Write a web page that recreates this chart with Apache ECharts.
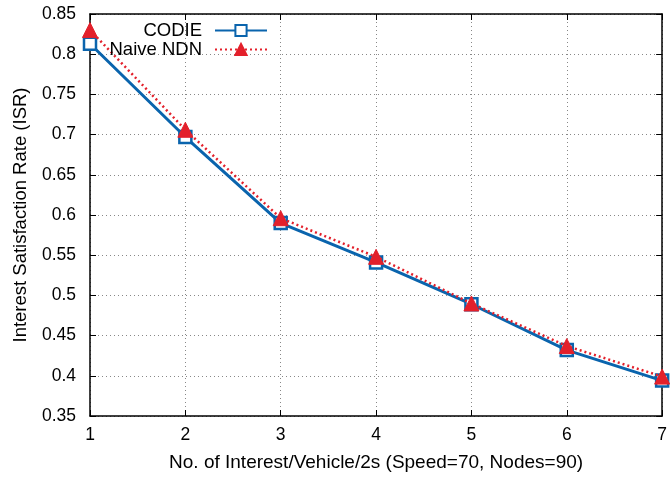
<!DOCTYPE html>
<html><head><meta charset="utf-8">
<script src="https://cdn.jsdelivr.net/npm/echarts@6/dist/echarts.min.js"></script>
<style>html,body{margin:0;padding:0;background:#fff}#c{width:670px;height:480px}</style>
</head><body><div id="c"></div>
<script>
const xValues = [1, 2, 3, 4, 5, 6, 7];
const codie = [0.813, 0.697, 0.590, 0.541, 0.489, 0.432, 0.394];
const naive = [0.830, 0.706, 0.596, 0.548, 0.490, 0.437, 0.399];
const seriesNames = ['CODIE', 'Naive NDN'];
const xTitle = 'No. of Interest/Vehicle/2s (Speed=70, Nodes=90)';
const yTitle = 'Interest Satisfaction Rate (ISR)';

const font = 'Liberation Sans, Arial, Helvetica, sans-serif';
const blue = '#0a64ad', red = '#e3202b';
const pairs = a => xValues.map((x, i) => [x, a[i]]);
const gridLine = {show: true, lineStyle: {color: '#888', type: [1, 3], width: 1}};
const axisBase = {
  axisLine: {show: true, lineStyle: {color: '#000', width: 1.5}},
  axisTick: {show: true, inside: true, length: 6, lineStyle: {color: '#000', width: 1}},
};
const legendText = {fontFamily: font, fontSize: 18.5, color: '#000', padding: [0, 8, 0, 0]};
const chart = echarts.init(document.getElementById('c'));
chart.setOption({
  animation: false,
  grid: {left: 90, right: 3, top: 14, bottom: 64},
  legend: [
    {data: [seriesNames[0]], right: 402, top: 21, padding: 0, align: 'right', itemWidth: 52, itemHeight: 14,
     textStyle: legendText},
    {data: [seriesNames[1]], right: 402, top: 40, padding: 0, align: 'right', itemWidth: 52, itemHeight: 14,
     textStyle: legendText}
  ],
  xAxis: [
    Object.assign({type: 'value', min: 1, max: 7, interval: 1, position: 'bottom',
      name: xTitle, nameLocation: 'middle', nameGap: 37,
      nameTextStyle: {fontFamily: font, fontSize: 19, color: '#000'},
      axisLabel: {fontFamily: font, fontSize: 17.5, color: '#000', margin: 10},
      splitLine: gridLine}, axisBase),
    Object.assign({type: 'value', min: 1, max: 7, interval: 1, position: 'top',
      axisLabel: {show: false}, splitLine: {show: false}}, axisBase)
  ],
  yAxis: [
    Object.assign({type: 'value', min: 0.35, max: 0.85, interval: 0.05, position: 'left',
      name: yTitle, nameLocation: 'middle', nameGap: 60,
      nameTextStyle: {fontFamily: font, fontSize: 18.5, color: '#000'},
      axisLabel: {fontFamily: font, fontSize: 17.5, color: '#000', margin: 14,
        formatter: v => String(Math.round(v * 100) / 100)},
      splitLine: gridLine}, axisBase),
    Object.assign({type: 'value', min: 0.35, max: 0.85, interval: 0.05, position: 'right',
      axisLabel: {show: false}, splitLine: {show: false}}, axisBase)
  ],
  series: [
    {name: seriesNames[0], type: 'line', data: pairs(codie), symbol: 'rect', symbolSize: 12,
     lineStyle: {color: blue, width: 3},
     itemStyle: {color: '#fff', borderColor: blue, borderWidth: 2.5}, z: 2},
    {name: seriesNames[1], type: 'line', data: pairs(naive), symbol: 'triangle', symbolSize: 15,
     lineStyle: {color: red, width: 2.5, type: [2, 3]},
     itemStyle: {color: red, borderColor: red, borderWidth: 1}, z: 3}
  ]
});
</script></body></html>
